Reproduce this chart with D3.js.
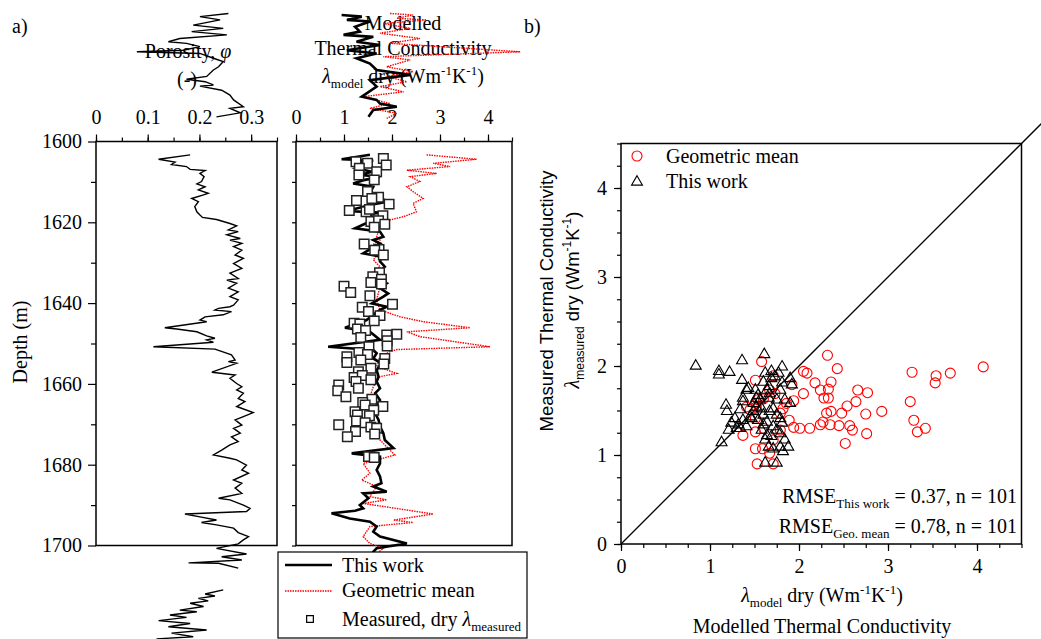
<!DOCTYPE html>
<html>
<head>
<meta charset="utf-8">
<script src="https://cdn.jsdelivr.net/npm/d3@7"></script>
<style>
body { margin: 0; background: #fff; }
svg { font-family: "Liberation Serif", "Times New Roman", serif; }
</style>
</head>
<body>
<div id="chart"></div>
<script>
// porosity log, [depth (m), porosity]; null = gap in the log
const porosityLog = [
  [1568.3,0.256],[1569.1,0.201],[1569.9,0.240],[1571.2,0.188],[1572.0,0.246],[1572.8,0.185],
  [1573.6,0.253],[1574.5,0.162],[1575.3,0.140],[1575.7,0.175],[1576.5,0.201],[1577.4,0.169],
  [1577.8,0.079],[1578.2,0.201],[1579.4,0.227],[1580.2,0.246],[1581.5,0.237],[1582.3,0.227],
  [1583.9,0.214],[1584.6,0.175],[1585.2,0.211],[1586.0,0.227],[1586.3,0.201],[1587.3,0.243],
  [1588.5,0.259],[1589.7,0.266],[1591.4,0.285],[1591.8,0.259],[1592.9,0.279],[1593.9,0.233],
  null,
  [1603.3,0.182],[1604.4,0.121],[1605.1,0.153],[1605.7,0.146],[1606.2,0.175],[1606.9,0.182],
  [1607.2,0.211],[1607.9,0.201],[1608.7,0.209],[1609.9,0.204],[1610.5,0.195],[1611.2,0.211],
  [1612.0,0.198],[1612.8,0.217],[1613.2,0.208],[1614.1,0.185],[1614.9,0.198],[1616.1,0.191],
  [1617.4,0.195],[1618.2,0.201],[1618.8,0.206],[1619.3,0.233],[1620.3,0.259],[1620.9,0.272],
  [1621.9,0.256],[1622.3,0.275],[1623.1,0.253],[1624.0,0.279],[1624.4,0.259],[1625.2,0.282],
  [1626.0,0.266],[1626.9,0.282],[1628.1,0.269],[1628.9,0.285],[1630.2,0.266],[1631.4,0.282],
  [1632.6,0.259],[1633.9,0.275],[1634.3,0.253],[1635.1,0.272],[1636.3,0.256],[1637.2,0.275],
  [1638.4,0.259],[1639.2,0.275],[1640.5,0.266],[1640.9,0.259],[1641.3,0.237],[1641.7,0.230],
  [1642.1,0.262],[1642.9,0.246],[1643.4,0.211],[1644.2,0.201],[1644.6,0.214],[1646.1,0.133],
  [1646.4,0.156],[1647.1,0.195],[1648.1,0.214],[1648.7,0.230],[1649.1,0.214],[1649.7,0.227],
  [1650.8,0.111],[1651.4,0.230],[1652.8,0.262],[1654.1,0.269],[1654.5,0.256],[1654.9,0.272],
  [1657.1,0.224],[1657.8,0.269],[1658.6,0.259],[1659.9,0.272],[1660.7,0.282],[1661.5,0.272],
  [1662.3,0.285],[1663.6,0.275],[1664.4,0.288],[1665.6,0.272],[1667.1,0.304],[1668.1,0.285],
  [1668.9,0.269],[1670.2,0.282],[1671.0,0.266],[1672.2,0.279],[1673.1,0.262],[1674.3,0.275],
  [1675.1,0.259],[1676.4,0.243],[1677.6,0.227],[1678.4,0.259],[1678.8,0.272],[1680.1,0.291],
  [1681.3,0.282],[1682.1,0.295],[1683.8,0.266],[1684.6,0.282],[1685.8,0.269],[1687.1,0.282],
  [1688.3,0.237],[1688.7,0.259],[1690.0,0.285],[1690.8,0.298],[1691.6,0.291],[1692.2,0.172],
  [1692.9,0.201],[1693.7,0.233],[1694.3,0.204],[1694.9,0.233],[1695.7,0.266],[1696.8,0.275],
  [1697.8,0.295],[1698.6,0.285],[1699.6,0.275],[1700.7,0.233],[1702.1,0.291],[1702.8,0.243],
  [1703.6,0.282],[1704.3,0.179],[1704.4,0.237],[1705.6,0.275],
  null,
  [1711.0,0.246],[1712.0,0.211],[1712.5,0.230],[1713.1,0.198],[1713.7,0.217],[1714.3,0.182],
  [1715.1,0.208],[1716.0,0.162],[1716.4,0.195],[1717.2,0.143],[1717.8,0.175],[1718.6,0.121],
  [1719.3,0.182],[1720.1,0.140],[1720.9,0.214],[1721.7,0.146],[1722.6,0.188],[1723.1,0.117]
];

// modelled dry thermal conductivity, this work, [depth, W/mK]
const thisWorkLog = [
  [1568.7,0.95],[1569.1,1.37],[1569.9,1.06],[1570.3,1.54],[1571.6,1.23],[1572.8,1.33],
  [1573.6,0.99],[1574.1,1.61],[1575.3,1.26],[1576.1,1.75],[1577.4,1.06],[1578.2,1.68],
  [1579.4,1.26],[1580.7,1.54],[1582.3,1.68],[1583.5,2.38],[1584.8,1.54],[1586.4,1.68],
  [1588.9,1.37],[1589.7,1.68],[1590.6,1.75],[1591.4,2.10],[1592.2,1.61],[1593.9,1.51],
  null,
  [1603.3,1.54],[1604.4,0.95],[1604.7,1.61],[1605.4,1.19],[1605.9,1.47],[1606.6,1.26],
  [1607.5,1.58],[1608.3,1.33],[1608.7,1.75],[1609.5,1.44],[1610.4,1.19],[1611.2,1.61],
  [1612.8,1.54],[1613.7,1.75],[1614.9,1.89],[1615.7,1.54],[1617.2,1.06],[1617.6,1.75],
  [1618.2,1.40],[1619.0,1.82],[1619.8,1.54],[1621.5,1.23],[1622.3,1.75],[1623.6,1.82],
  [1624.4,1.61],[1625.2,1.75],[1627.7,1.40],[1628.5,1.78],[1629.7,1.75],[1631.0,1.85],
  [1632.2,1.75],[1633.5,1.54],[1635.1,1.89],[1636.3,1.75],[1637.6,1.92],[1638.4,1.82],
  [1640.1,1.58],[1640.9,1.89],[1641.7,1.75],[1642.9,1.61],[1644.2,1.47],[1646.1,1.02],
  [1647.1,1.54],[1649.1,1.75],[1650.8,0.67],[1651.6,1.61],[1652.4,1.68],[1653.7,1.61],
  [1654.9,1.78],[1656.6,1.68],[1658.2,1.72],[1659.4,1.68],[1661.1,1.75],[1662.3,1.65],
  [1664.0,1.75],[1665.6,1.68],[1667.3,1.65],[1668.9,1.72],[1670.6,1.75],[1672.2,1.82],
  [1673.9,1.85],[1675.9,2.03],[1677.2,1.16],[1678.0,1.75],[1679.7,1.75],[1681.3,1.68],
  [1682.9,1.75],[1684.6,1.78],[1685.4,1.61],[1686.7,1.89],[1687.1,1.40],[1688.3,1.51],
  [1690.0,1.33],[1690.8,1.40],[1691.4,1.23],[1692.0,0.74],[1693.3,1.12],[1694.1,1.54],
  [1695.3,1.68],[1696.6,1.61],[1697.8,1.75],[1699.5,2.31],[1700.7,1.68],[1702.3,1.55]
];

// geometric mean model, [depth, W/mK]
const geoMeanLog = [
  [1568.3,1.96],[1568.7,2.44],[1569.5,2.10],[1569.9,2.72],[1570.8,1.82],[1572.0,2.38],
  [1573.2,1.75],[1574.5,2.58],[1575.7,1.96],[1577.8,4.67],[1579.0,1.82],[1579.8,2.38],
  [1581.5,1.89],[1582.7,2.44],[1583.9,1.89],[1585.2,2.31],[1586.4,1.75],[1587.7,2.24],
  [1588.9,1.40],[1590.6,1.96],[1591.8,1.54],[1593.0,2.10],[1594.3,1.89],
  null,
  [1603.3,2.72],[1604.4,3.76],[1605.4,2.86],[1606.2,3.21],[1607.1,2.31],[1607.9,2.93],
  [1608.7,2.38],[1609.9,2.58],[1611.2,2.31],[1612.4,2.44],[1614.1,2.65],[1615.3,2.44],
  [1617.4,2.51],[1618.6,2.24],[1619.4,1.96],[1621.1,1.75],[1623.6,1.68],[1624.4,1.75],
  [1626.0,1.54],[1627.7,1.72],[1629.3,1.61],[1631.0,1.75],[1632.6,1.58],[1635.9,1.75],
  [1639.2,1.68],[1641.7,1.75],[1643.4,2.17],[1644.6,2.65],[1646.1,3.63],[1647.1,2.31],
  [1648.3,2.58],[1650.8,4.04],[1651.5,2.10],[1652.0,1.96],[1653.3,1.75],[1655.7,1.68],
  [1657.4,2.10],[1658.2,1.75],[1660.7,1.61],[1663.2,1.54],[1665.6,1.68],[1668.1,1.61],
  [1670.6,1.54],[1673.9,1.75],[1677.6,2.06],[1679.7,1.40],[1682.1,1.54],[1683.8,1.37],
  [1685.4,1.68],[1687.9,1.54],[1688.7,1.89],[1689.6,1.40],[1692.2,2.86],[1693.7,2.03],
  [1694.3,2.44],[1695.3,1.54],[1697.8,1.40],[1699.5,1.54],[1700.7,1.82],[1702.0,1.68]
];

// measured dry conductivity, [depth, W/mK]
const measuredLog = [
  [1604.2,1.82],[1605.8,1.88],[1605.0,1.25],[1605.4,1.49],[1606.6,1.32],[1607.5,1.68],
  [1608.3,1.31],[1609.5,1.63],[1612.4,1.49],[1613.8,1.72],[1614.6,1.26],[1615.5,1.94],
  [1614.1,1.58],[1617.1,1.11],[1617.4,1.46],[1616.8,1.53],[1618.4,1.81],[1619.8,1.56],
  [1619.6,1.72],[1620.5,1.85],[1621.2,1.63],[1625.4,1.42],[1626.7,1.73],[1626.9,1.64],
  [1628.1,1.82],[1632.5,1.74],[1633.5,1.60],[1634.1,1.78],[1634.9,1.56],[1635.3,1.78],
  [1635.8,1.00],[1637.4,1.14],[1638.2,1.54],[1641.0,1.38],[1640.3,2.01],[1642.1,1.51],
  [1643.1,1.75],[1645.0,1.21],[1645.2,1.33],[1644.4,1.63],[1646.4,1.28],[1646.8,1.45],
  [1648.5,1.35],[1647.9,1.89],[1647.7,2.10],[1649.3,1.90],[1650.8,1.52],[1650.6,1.90],
  [1652.2,1.31],[1652.7,1.49],[1653.3,1.06],[1654.7,1.06],[1654.1,1.35],[1653.7,1.85],
  [1655.1,1.83],[1656.1,1.56],[1657.0,1.30],[1658.4,1.21],[1657.9,1.38],[1659.4,1.25],
  [1659.0,1.56],[1660.3,0.89],[1661.7,0.87],[1661.1,1.30],[1663.2,1.04],[1663.8,1.58],
  [1664.6,1.39],[1665.2,1.44],[1665.6,1.81],[1666.9,1.23],[1666.5,1.62],[1667.7,1.28],
  [1667.9,1.53],[1669.2,1.26],[1669.6,1.44],[1670.1,0.89],[1670.7,1.56],[1671.0,1.68],
  [1672.4,1.64],[1671.8,1.24],[1673.1,1.07],[1678.0,1.51],[1678.2,1.63]
];

// panel b: [modelled, measured]
const scatterThisWork = [
  [0.84,2.00],[1.10,1.94],[1.10,1.90],[1.22,1.93],[1.36,2.06],[1.61,2.13],[1.36,1.84],
  [1.18,1.56],[1.19,1.49],[1.13,1.14],[1.21,1.28],[1.30,1.30],[1.32,1.34],[1.41,1.73],
  [1.43,1.75],[1.37,1.64],[1.37,1.60],[1.34,1.51],[1.28,1.41],[1.37,1.39],[1.45,1.43],
  [1.49,1.49],[1.52,1.54],[1.60,1.82],[1.62,1.92],[1.69,1.94],[1.73,1.88],[1.81,1.99],
  [1.81,1.81],[1.90,1.86],[1.92,1.79],[1.79,1.73],[1.67,1.69],[1.66,1.64],[1.75,1.62],
  [1.84,1.62],[1.90,1.58],[1.58,1.52],[1.60,1.45],[1.67,1.49],[1.75,1.45],[1.79,1.41],
  [1.64,1.37],[1.60,1.34],[1.71,1.32],[1.81,1.36],[1.75,1.28],[1.64,1.22],[1.69,1.21],
  [1.79,1.24],[1.66,1.09],[1.71,1.07],[1.79,1.09],[1.82,1.04],[1.88,1.09],[1.62,0.91],
  [1.75,0.91],[1.56,1.62],[1.52,1.64],[1.64,1.73],[1.66,1.77],[1.54,1.67],[1.49,1.58],
  [1.41,1.32],[1.47,1.41],[1.34,1.30],[1.24,1.36],[1.58,1.28],[1.62,1.17],[1.71,1.52],
  [1.54,1.39],[1.84,1.17],[1.69,1.86],[1.77,1.92],[1.51,1.73]
];
const scatterGeoMean = [
  [1.58,2.05],[1.51,1.84],[2.05,1.94],[2.09,1.92],[2.18,1.81],[2.24,1.73],[2.28,1.64],
  [2.33,1.74],[2.36,1.82],[2.43,1.97],[2.32,2.12],[2.05,1.69],[1.94,1.61],[1.89,1.39],
  [1.94,1.31],[2.12,1.30],[2.24,1.34],[2.27,1.37],[2.31,1.47],[2.36,1.49],[2.45,1.33],
  [2.35,1.34],[2.48,1.47],[2.54,1.55],[2.64,1.60],[2.66,1.73],[2.77,1.70],[2.75,1.46],
  [2.93,1.49],[2.76,1.24],[2.60,1.28],[2.57,1.33],[2.52,1.13],[3.27,1.93],[3.54,1.89],
  [3.53,1.81],[3.70,1.92],[4.07,1.99],[3.25,1.60],[3.29,1.39],[3.33,1.26],[3.42,1.30],
  [1.92,1.79],[1.51,1.07],[1.59,1.07],[1.67,1.02],[1.53,0.90],[1.71,0.90],[1.71,1.17],
  [1.82,1.52],[1.51,1.41],[1.52,1.58],[1.52,1.54],[1.37,1.22],[1.51,1.26],[1.60,1.30],
  [1.41,1.54],[1.45,1.51],[1.54,1.62],[1.67,1.73],[1.79,1.28],[1.79,1.47],[1.73,1.69],
  [2.01,1.30],[1.86,1.58],[2.33,1.64],[1.71,1.89],[1.60,1.63]
];

const porosityTicks = [0, 0.1, 0.2, 0.3];
const lambdaTicks = [0, 1, 2, 3, 4];
const depthTicks = [1600, 1620, 1640, 1660, 1680, 1700];
const scatterTicks = [0, 1, 2, 3, 4];

const SERIF = 'Liberation Serif, Times New Roman, serif'
const SANS = 'Liberation Sans, Arial, sans-serif'

const svg = d3.select('#chart').append('svg')
  .attr('width', 1041)
  .attr('height', 639)
  .attr('font-family', SERIF)

const phiX = d3.scaleLinear().domain([0, 0.35]).range([96, 277])
const lamX = d3.scaleLinear().domain([0, 4.5]).range([296, 512])
const depthY = d3.scaleLinear().domain([1600, 1700]).range([141.5, 545.5])
const bx = d3.scaleLinear().domain([0, 4.5]).range([621, 1021.5])
const by = d3.scaleLinear().domain([0, 4.5]).range([544, 143.5])

const intFmt = d3.format('d')

// axis helper: drop domain, use the page font
function styleAxis(g) {
  g.select('.domain').remove()
  g.attr('font-family', SERIF).attr('font-size', 20)
  g.selectAll('text').attr('font-family', SERIF)
  g.selectAll('line').attr('stroke-width', 1.2)
}

// ---- titles (drawn first, the logs run over them like in the original)
svg.append('text').attr('x', 12).attr('y', 33).attr('font-size', 20).text('a)')
svg.append('text').attr('x', 524).attr('y', 33).attr('font-size', 20).text('b)')

let t = svg.append('text').attr('x', 188).attr('y', 58).attr('font-size', 20).attr('text-anchor', 'middle')
t.append('tspan').text('Porosity, ')
t.append('tspan').attr('font-style', 'italic').text('φ')
svg.append('text').attr('x', 187).attr('y', 86).attr('font-size', 20).attr('text-anchor', 'middle').text('(-)')

svg.append('text').attr('x', 403).attr('y', 30).attr('font-size', 20).attr('text-anchor', 'middle').text('Modelled')
svg.append('text').attr('x', 403).attr('y', 55).attr('font-size', 20).attr('text-anchor', 'middle').text('Thermal Conductivity')

function lambdaUnits(sel, sub) {
  sel.append('tspan').attr('font-style', 'italic').text('λ')
  sel.append('tspan').attr('font-size', 13).attr('dy', 5).text(sub)
  sel.append('tspan').attr('dy', -5).text(' dry (Wm')
  sel.append('tspan').attr('font-size', 13).attr('dy', -8).text('-1')
  sel.append('tspan').attr('dy', 8).text('K')
  sel.append('tspan').attr('font-size', 13).attr('dy', -8).text('-1')
  sel.append('tspan').attr('dy', 8).text(')')
}
lambdaUnits(svg.append('text').attr('x', 403).attr('y', 83).attr('font-size', 20).attr('text-anchor', 'middle'), 'model')

svg.append('text')
  .attr('transform', 'translate(27,342) rotate(-90)')
  .attr('font-size', 20).attr('text-anchor', 'middle').text('Depth (m)')

// ---- panel a1 axes
svg.append('g').attr('transform', 'translate(0,141.5)')
  .call(d3.axisTop(phiX).tickValues(d3.range(0, 0.351, 0.05)).tickSize(4).tickFormat(''))
  .call(styleAxis)
svg.append('g').attr('transform', 'translate(0,141.5)')
  .call(d3.axisTop(phiX).tickValues(porosityTicks).tickSize(7).tickPadding(11)
    .tickFormat(d => d === 0 ? '0' : d3.format('.1f')(d)))
  .call(styleAxis)
svg.append('g').attr('transform', 'translate(96,0)')
  .call(d3.axisLeft(depthY).tickValues(d3.range(1610, 1700, 20)).tickSize(5).tickFormat(''))
  .call(styleAxis)
svg.append('g').attr('transform', 'translate(96,0)')
  .call(d3.axisLeft(depthY).tickValues(depthTicks).tickSize(8).tickPadding(6).tickFormat(intFmt))
  .call(styleAxis)

// ---- panel a2 axes
svg.append('g').attr('transform', 'translate(0,141.5)')
  .call(d3.axisTop(lamX).tickValues(d3.range(0, 4.51, 0.5)).tickSize(4).tickFormat(''))
  .call(styleAxis)
svg.append('g').attr('transform', 'translate(0,141.5)')
  .call(d3.axisTop(lamX).tickValues(lambdaTicks).tickSize(7).tickPadding(11).tickFormat(intFmt))
  .call(styleAxis)
svg.append('g').attr('transform', 'translate(296,0)')
  .call(d3.axisLeft(depthY).tickValues(d3.range(1600, 1701, 10)).tickSize(4).tickFormat(''))
  .call(styleAxis)

// frames
svg.append('rect').attr('x', phiX(0)).attr('y', depthY(1600))
  .attr('width', phiX(0.35) - phiX(0)).attr('height', depthY(1700) - depthY(1600))
  .attr('fill', 'none').attr('stroke', 'black').attr('stroke-width', 1.5)
svg.append('rect').attr('x', lamX(0)).attr('y', depthY(1600))
  .attr('width', lamX(4.5) - lamX(0)).attr('height', depthY(1700) - depthY(1600))
  .attr('fill', 'none').attr('stroke', 'black').attr('stroke-width', 1.5)

// ---- logs (not clipped, as in the source figure)
const porLine = d3.line().defined(d => d !== null).x(d => phiX(d[1])).y(d => depthY(d[0]))
const lamLine = d3.line().defined(d => d !== null).x(d => lamX(d[1])).y(d => depthY(d[0]))

svg.append('path').datum(porosityLog).attr('d', porLine)
  .attr('fill', 'none').attr('stroke', 'black').attr('stroke-width', 1.4)

svg.append('path').datum(geoMeanLog).attr('d', lamLine)
  .attr('fill', 'none').attr('stroke', '#ff0000').attr('stroke-width', 1.4)
  .attr('stroke-dasharray', '1.5,1')
svg.append('path').datum(thisWorkLog).attr('d', lamLine)
  .attr('fill', 'none').attr('stroke', 'black').attr('stroke-width', 2.6)

svg.append('g').selectAll('path').data(measuredLog).join('path')
  .attr('transform', d => `translate(${lamX(d[1])},${depthY(d[0])})`)
  .attr('d', d3.symbol(d3.symbolSquare, 90))
  .attr('fill', 'white').attr('stroke', '#222').attr('stroke-width', 1.5)

// ---- legend panel a
const lg = svg.append('g')
lg.append('rect').attr('x', 278).attr('y', 552).attr('width', 249).attr('height', 86)
  .attr('fill', 'white').attr('stroke', 'black').attr('stroke-width', 1.2)
lg.append('line').attr('x1', 285).attr('x2', 332).attr('y1', 565).attr('y2', 565)
  .attr('stroke', 'black').attr('stroke-width', 2.6)
lg.append('text').attr('x', 342).attr('y', 572).attr('font-size', 20).text('This work')
lg.append('line').attr('x1', 285).attr('x2', 332).attr('y1', 591).attr('y2', 591)
  .attr('stroke', '#ff0000').attr('stroke-width', 1.4).attr('stroke-dasharray', '1.5,1')
lg.append('text').attr('x', 342).attr('y', 597).attr('font-size', 20).text('Geometric mean')
lg.append('path').attr('transform', 'translate(310,619)').attr('d', d3.symbol(d3.symbolSquare, 45))
  .attr('fill', 'white').attr('stroke', 'black').attr('stroke-width', 1.2)
t = lg.append('text').attr('x', 342).attr('y', 626).attr('font-size', 20)
t.append('tspan').text('Measured, dry ')
t.append('tspan').attr('font-style', 'italic').text('λ')
t.append('tspan').attr('font-size', 13).attr('dy', 5).text('measured')

// ---- panel b
svg.append('g').attr('transform', 'translate(0,544)')
  .call(d3.axisBottom(bx).tickValues(d3.range(0, 4.51, 0.25)).tickSize(4).tickFormat(''))
  .call(styleAxis)
svg.append('g').attr('transform', 'translate(0,544)')
  .call(d3.axisBottom(bx).tickValues(scatterTicks).tickSize(7).tickPadding(8).tickFormat(intFmt))
  .call(styleAxis)
svg.append('g').attr('transform', 'translate(621,0)')
  .call(d3.axisLeft(by).tickValues(d3.range(0, 4.51, 0.25)).tickSize(4).tickFormat(''))
  .call(styleAxis)
svg.append('g').attr('transform', 'translate(621,0)')
  .call(d3.axisLeft(by).tickValues(scatterTicks).tickSize(7).tickPadding(7).tickFormat(intFmt))
  .call(styleAxis)

svg.append('rect').attr('x', bx(0)).attr('y', by(4.5))
  .attr('width', bx(4.5) - bx(0)).attr('height', by(0) - by(4.5))
  .attr('fill', 'none').attr('stroke', 'black').attr('stroke-width', 1.5)

// 1:1 line runs past the frame
svg.append('line').attr('x1', bx(0)).attr('y1', by(0)).attr('x2', bx(4.75)).attr('y2', by(4.75))
  .attr('stroke', 'black').attr('stroke-width', 1.3)

svg.append('g').selectAll('circle').data(scatterGeoMean).join('circle')
  .attr('cx', d => bx(d[0])).attr('cy', d => by(d[1])).attr('r', 5)
  .attr('fill', 'none').attr('stroke', '#ff0000').attr('stroke-width', 1.1)

const tri = d3.symbol(d3.symbolTriangle, 52)
svg.append('g').selectAll('path').data(scatterThisWork).join('path')
  .attr('transform', d => `translate(${bx(d[0])},${by(d[1])})`)
  .attr('d', tri)
  .attr('fill', 'none').attr('stroke', 'black').attr('stroke-width', 1.1)

// legend b
svg.append('circle').attr('cx', 637).attr('cy', 156).attr('r', 5)
  .attr('fill', 'none').attr('stroke', '#ff0000').attr('stroke-width', 1.1)
svg.append('text').attr('x', 666).attr('y', 163).attr('font-size', 20).text('Geometric mean')
svg.append('path').attr('transform', 'translate(637,182)').attr('d', tri)
  .attr('fill', 'none').attr('stroke', 'black').attr('stroke-width', 1.1)
svg.append('text').attr('x', 666).attr('y', 188).attr('font-size', 20).text('This work')

// RMSE notes
function rmse(y, sub, val) {
  const s = svg.append('text').attr('x', 1017).attr('y', y).attr('font-size', 20).attr('text-anchor', 'end')
  s.append('tspan').text('RMSE')
  s.append('tspan').attr('font-size', 13).attr('dy', 5).text(sub)
  s.append('tspan').attr('dy', -5).text(' = ' + val + ', n = 101')
}
rmse(503, 'This work', '0.37')
rmse(533, 'Geo. mean', '0.78')

// axis titles b
lambdaUnits(svg.append('text').attr('x', 822).attr('y', 602).attr('font-size', 20).attr('text-anchor', 'middle'), 'model')
svg.append('text').attr('x', 822).attr('y', 633).attr('font-size', 20).attr('text-anchor', 'middle')
  .text('Modelled Thermal Conductivity')

svg.append('text')
  .attr('transform', 'translate(553,301) rotate(-90)')
  .attr('font-family', SANS)
  .attr('font-size', 18.5).attr('text-anchor', 'middle').text('Measured Thermal Conductivity')

t = svg.append('text')
  .attr('transform', 'translate(579,300) rotate(-90)')
  .attr('font-family', SANS)
  .attr('font-size', 18.5).attr('text-anchor', 'middle')
t.append('tspan').attr('font-family', SERIF).attr('font-style', 'italic').attr('font-size', 20).text('λ')
t.append('tspan').attr('font-size', 12).attr('dy', 5).text('measured')
t.append('tspan').attr('dy', -5).text(' dry (Wm')
t.append('tspan').attr('font-size', 12).attr('dy', -8).text('-1')
t.append('tspan').attr('dy', 8).text('K')
t.append('tspan').attr('font-size', 12).attr('dy', -8).text('-1')
t.append('tspan').attr('dy', 8).text(')')
</script>
</body>
</html>
